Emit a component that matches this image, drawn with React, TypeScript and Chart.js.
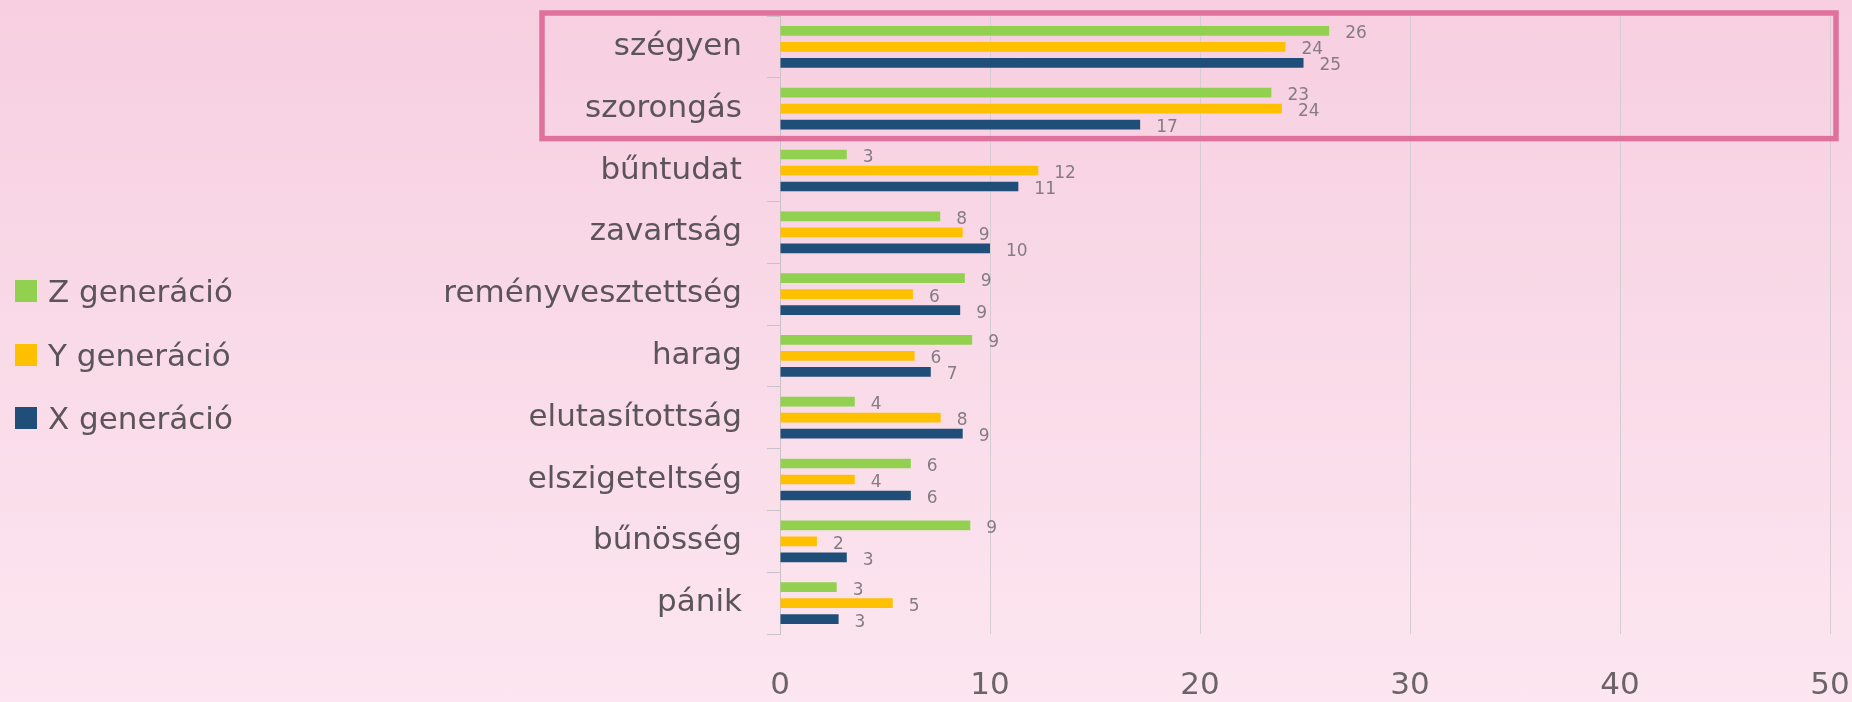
import React, { useEffect, useRef } from "react";
import { Chart, registerables } from "chart.js";

Chart.register(...registerables);

// ---- data ----
const categories = [
  "szégyen",
  "szorongás",
  "bűntudat",
  "zavartság",
  "reményvesztettség",
  "harag",
  "elutasítottság",
  "elszigeteltség",
  "bűnösség",
  "pánik",
];
const genZ = [26.15, 23.4, 3.18, 7.63, 8.8, 9.15, 3.56, 6.23, 9.06, 2.7];
const genY = [24.07, 23.9, 12.3, 8.7, 6.33, 6.41, 7.65, 3.56, 1.76, 5.37];
const genX = [24.93, 17.15, 11.35, 10.0, 8.58, 7.18, 8.7, 6.23, 3.18, 2.79];
const seriesNames = ["Z generáció", "Y generáció", "X generáció"];
const seriesColors = ["#92D050", "#FFC000", "#1F4E79"];
const xTickValues = [0, 10, 20, 30, 40, 50];
const highlightedCategories = [0, 1];

const FONT = "'DejaVu Sans', sans-serif";
const TEXT = "#5b555a";

const dataLabelPlugin = {
  id: "dataLabels",
  afterDatasetsDraw(chart: any) {
    const ctx = chart.ctx;
    ctx.save();
    ctx.font = `17px ${FONT}`;
    ctx.fillStyle = "#857c83";
    ctx.textAlign = "left";
    ctx.textBaseline = "middle";
    chart.data.datasets.forEach((ds: any, di: number) => {
      const meta = chart.getDatasetMeta(di);
      meta.data.forEach((el: any, i: number) => {
        const v = ds.data[i];
        ctx.fillText(String(Math.round(v)), el.x + 16, el.y + 3);
      });
    });
    ctx.restore();
  },
};

const highlightPlugin = {
  id: "highlightBox",
  afterDraw(chart: any) {
    const y = chart.scales.y;
    const first = Math.min(...highlightedCategories);
    const last = Math.max(...highlightedCategories);
    const half = (y.getPixelForValue(1) - y.getPixelForValue(0)) / 2;
    const top = y.getPixelForValue(first) - half - 3;
    const bottom = y.getPixelForValue(last) + half - 1;
    const left = 542;
    const right = chart.chartArea.right + 6;
    const ctx = chart.ctx;
    ctx.save();
    ctx.strokeStyle = "#E0719D";
    ctx.lineWidth = 5.5;
    ctx.strokeRect(left, top, right - left, bottom - top);
    ctx.restore();
  },
};

export default function App() {
  const ref = useRef<HTMLCanvasElement | null>(null);

  useEffect(() => {
    if (!ref.current) return;
    const series = [genZ, genY, genX];
    const chart = new Chart(ref.current, {
      type: "bar",
      data: {
        labels: categories,
        datasets: series.map((d, i) => ({
          label: seriesNames[i],
          data: d,
          backgroundColor: seriesColors[i],
          borderWidth: 0,
          categoryPercentage: 0.777,
          barPercentage: 0.606,
        })),
      },
      options: {
        indexAxis: "y",
        animation: false,
        responsive: false,
        maintainAspectRatio: false,
        layout: { padding: { top: 16, right: 22, left: 0, bottom: 0 } },
        plugins: {
          legend: { display: false },
          tooltip: { enabled: false },
        },
        scales: {
          x: {
            min: 0,
            max: 50,
            afterBuildTicks: (scale: any) => {
              scale.ticks = xTickValues.map((v) => ({ value: v }));
            },
            afterFit: (scale: any) => {
              scale.height = 68;
              scale.paddingLeft = 0;
              scale.paddingRight = 0;
            },
            border: { display: false },
            grid: {
              color: "#d6cdd2",
              lineWidth: 1,
              drawTicks: false,
            },
            ticks: {
              padding: 33,
              maxRotation: 0,
              color: "#6a6368",
              font: { family: FONT, size: 31 },
            },
          },
          y: {
            afterFit: (scale: any) => {
              scale.width = 780;
              scale.paddingTop = 0;
              scale.paddingBottom = 0;
            },
            border: { display: true, color: "#c9c3c7", width: 1 },
            grid: {
              drawOnChartArea: false,
              drawTicks: true,
              tickLength: 13,
              color: "#c9c3c7",
            },
            ticks: {
              padding: 25,
              color: TEXT,
              font: { family: FONT, size: 31 },
            },
          },
        },
      },
      plugins: [dataLabelPlugin, highlightPlugin],
    });
    return () => chart.destroy();
  }, []);

  return (
    <div
      style={{
        position: "absolute",
        left: 0,
        top: 0,
        width: 1852,
        height: 702,
        overflow: "hidden",
        background: "linear-gradient(180deg, #F7CFE0 0%, #FCE6F0 100%)",
      }}
    >
      <canvas
        ref={ref}
        width={1852}
        height={702}
        style={{ position: "absolute", left: 0, top: 0, width: 1852, height: 702 }}
      />
      <div style={{ position: "absolute", left: 15, top: 291 - 31.75 }}>
        {seriesNames.map((name, i) => (
          <div
            key={name}
            style={{ display: "flex", alignItems: "center", height: 63.5 }}
          >
            <div
              style={{
                width: 22,
                height: 22,
                background: seriesColors[i],
                marginRight: 11,
              }}
            />
            <span
              style={{
                fontFamily: FONT,
                fontSize: 31,
                color: TEXT,
                lineHeight: "36px",
                whiteSpace: "nowrap",
              }}
            >
              {name}
            </span>
          </div>
        ))}
      </div>
    </div>
  );
}
